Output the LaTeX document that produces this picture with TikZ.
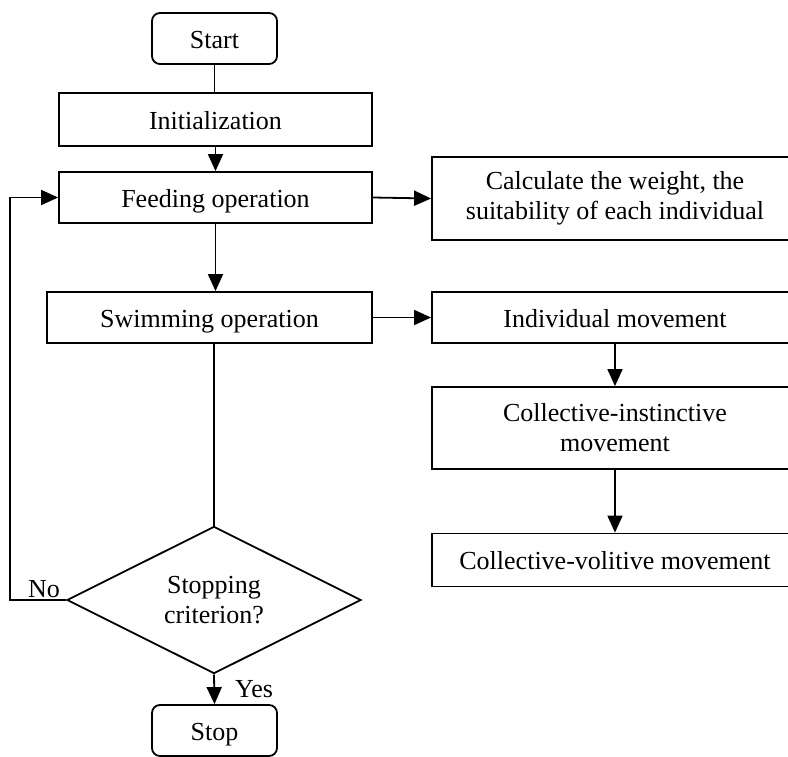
\documentclass[tikz,border=0pt]{standalone}
\usepackage{fontspec}
\setmainfont{Liberation Serif}
\usetikzlibrary{shapes.geometric,arrows.meta}
\tikzset{
  box/.style={draw, line width=1.8pt, inner sep=0pt, align=center, font=\fontsize{26}{30}\selectfont},
  one/.style={text height=19pt, text depth=0pt},
  term/.style={box, one, rounded corners=8pt},
  decision/.style={draw, diamond, line width=1.8pt, inner sep=0pt, align=center,
    minimum width=294pt, minimum height=134pt, font=\fontsize{26}{30}\selectfont},
  arr/.style={-{Triangle[length=17pt,width=15pt]}, line width=1.8pt},
  ln/.style={line width=1.8pt},
  lbl/.style={inner sep=1pt, font=\fontsize{26}{30}\selectfont}
}
\begin{document}
\begin{tikzpicture}[x=1pt,y=-1pt]
\clip (0,0) rectangle (788,756);
\fill[white] (0,0) rectangle (788,756);
\node[term, minimum width=125pt, minimum height=51pt] (start) at (214.5,38.5) {Start};
\node[box, one, minimum width=313pt, minimum height=53pt] (init) at (215.5,119.5) {Initialization};
\node[box, one, minimum width=313pt, minimum height=51pt] (feed) at (215.5,197.5) {Feeding operation};
\node[box, minimum width=366pt, minimum height=83pt] (calc) at (615,198.5) {Calculate the weight, the\\suitability of each individual};
\node[box, one, minimum width=325pt, minimum height=51pt] (swim) at (209.5,317.5) {Swimming operation};
\node[box, one, minimum width=366pt, minimum height=51pt] (indiv) at (615,317.5) {Individual movement};
\node[box, minimum width=366pt, minimum height=82pt] (ci) at (615,428) {Collective-instinctive\\movement};
\node[box, one, minimum width=366pt, minimum height=53pt] (cv) at (615,560) {Collective-volitive movement};
\node[decision] (dia) at (214,600) {Stopping\\criterion?};
\node[term, minimum width=125pt, minimum height=51pt] (stop) at (214.5,730.5) {Stop};

\draw[ln] (start.south) -- (start.south |- init.north);
\draw[arr] (init.south) -- (feed.north);
\draw[arr] (feed.east) -- (calc.west);
\draw[arr] (feed.south) -- (feed.south |- swim.north);
\draw[arr] (swim.east) -- (indiv.west);
\draw[arr] (indiv.south) -- (ci.north);
\draw[arr] (ci.south) -- (cv.north);
\draw[ln] (dia.north |- swim.south) -- (dia.north);
\draw[arr] (dia.south) -- node[lbl, anchor=west, xshift=19pt]{Yes} (stop.north);
\draw[arr] (dia.west) -- node[lbl, above, xshift=6pt]{No} ++(-56,0) |- (feed.west);
\end{tikzpicture}
\end{document}
